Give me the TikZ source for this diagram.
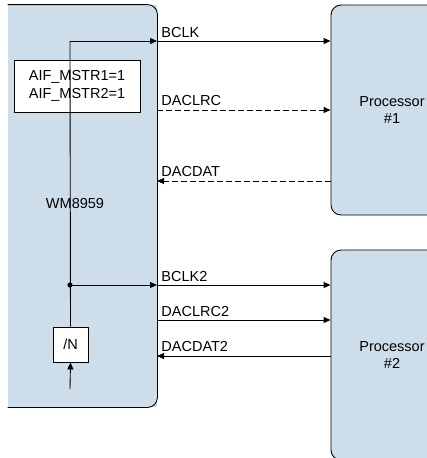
\documentclass[tikz,border=0pt]{standalone}
\usepackage{fontspec}
\setmainfont{Liberation Sans}
\usetikzlibrary{arrows.meta}
\definecolor{chipblue}{RGB}{205,222,234}
\begin{document}
\begin{tikzpicture}[
  x=1pt, y=-1pt,
  font=\fontsize{14.5}{17.5}\selectfont,
  line width=0.9pt,
  chip/.style={
    fill=chipblue,
    minimum width=149pt,
    minimum height=402pt,
    inner sep=0
  },
  proc/.style={
    draw,
    fill=chipblue,
    rounded corners=10pt,
    align=center,
    minimum width=122pt,
    minimum height=210pt
  },
  box/.style={draw, fill=white, align=center, inner sep=0},
  lbl/.style={anchor=base west, inner sep=0},
  arrow/.style={-{Triangle[length=7pt,width=6pt]}},
  sigdash/.style={dash pattern=on 6pt off 3pt}
]
\useasboundingbox (0,0) rectangle (427,458);
\clip (0,0) rectangle (427,458);

\node[chip] (wm) at (82.5,206) {};
\draw[rounded corners=10pt] (wm.north west) -- (wm.north east) -- (wm.south east) -- (wm.south west);
\node (wmname) at (75,203.5) {WM8959};
\node[box, minimum width=126pt, minimum height=52pt] (mstr) at (77,86) {AIF\_MSTR1=1\\AIF\_MSTR2=1};
\node[box, minimum width=35pt, minimum height=35pt] (ndiv) at (70.5,344.5) {/N};

\node[proc] (p1) at (392,110) {Processor\\\#1};
\node[proc] (p2) at (392,355) {Processor\\\#2};

\coordinate (tap) at (70,41);
\coordinate (split) at (70,285);
\coordinate (clkin) at (70,389);
\coordinate (bclk) at (157,41);
\coordinate (lrc) at (157,110);
\coordinate (dat) at (157,181);
\coordinate (bclktwo) at (157,285);
\coordinate (lrctwo) at (157,320);
\coordinate (dattwo) at (157,356);

\draw (ndiv.north) -- (tap);
\draw[arrow] (clkin) -- (ndiv.south);
\fill (split) circle (2.6pt);

\draw[arrow] (tap) -- (bclk);
\draw[arrow] (bclk) -- (p1.west |- bclk);
\draw[arrow, sigdash] (lrc) -- (p1.west |- lrc);
\draw[arrow, sigdash] (p1.west |- dat) -- (dat);
\draw[arrow] (split) -- (bclktwo);
\draw[arrow] (bclktwo) -- (p2.west |- bclktwo);
\draw[arrow] (lrctwo) -- (p2.west |- lrctwo);
\draw[arrow] (p2.west |- dattwo) -- (dattwo);

\node[lbl] (lbclk) at (161,37) {BCLK};
\node[lbl] (llrc) at (161,105) {DACLRC};
\node[lbl] (ldat) at (161,176) {DACDAT};
\node[lbl] (lbclktwo) at (161,281) {BCLK2};
\node[lbl] (llrctwo) at (161,316) {DACLRC2};
\node[lbl] (ldattwo) at (161,351) {DACDAT2};
\end{tikzpicture}
\end{document}
